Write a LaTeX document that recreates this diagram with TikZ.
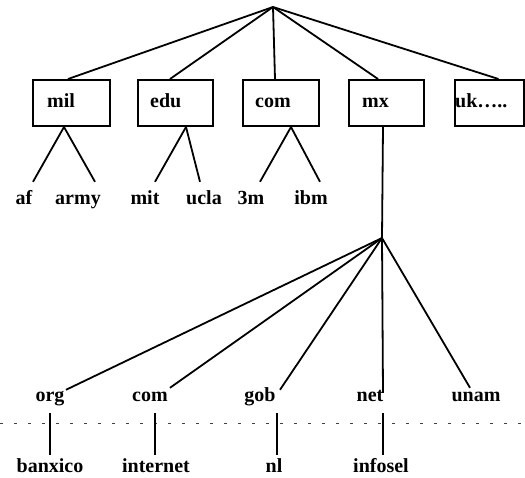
\documentclass[tikz,border=0pt]{standalone}
\usepackage{fontspec}
\setmainfont{Liberation Serif}
\begin{document}
\begin{tikzpicture}[x=1pt,y=-1pt,
  lbl/.style={font=\fontsize{20}{23}\selectfont\bfseries, inner sep=0pt, text height=13pt, text depth=4pt},
  box/.style={draw, line width=2pt, minimum height=46pt, inner sep=0pt, anchor=north west},
  edge/.style={line width=1.8pt},
  rule/.style={line width=0.8pt, black!75, dash pattern=on 3pt off 11pt}]
\useasboundingbox (0,0) rectangle (525,478);
\coordinate (root) at (273,7);
% top-level boxes
\node[box, minimum width=77pt] (mil) at (32,79) {};
\node[box, minimum width=75pt] (edu) at (137,79) {};
\node[box, minimum width=76pt] (com) at (242,79) {};
\node[box, minimum width=75pt] (mx)  at (348,79) {};
\node[box, minimum width=69pt] (uk)  at (454,79) {};
\node[lbl, anchor=west] (tmil) at (47,103) {mil};
\node[lbl, anchor=west] (tedu) at (150,103) {edu};
\node[lbl, anchor=west] (tcom) at (255,103) {com};
\node[lbl, anchor=west] (tmx)  at (362,103) {mx};
\node[lbl, anchor=west] (tuk)  at (455,103) {uk…..};
% root edges
\draw[edge] (root) -- ([xshift=-3.5pt]mil.north);
\draw[edge] (root) -- ([xshift=-5.5pt]edu.north);
\draw[edge] (root) -- ([xshift=-6pt]com.north);
\draw[edge] (root) -- ([xshift=-8.5pt]mx.north);
\draw[edge] (root) -- ([xshift=9pt]uk.north);
% second level labels
\node[lbl] (af)   at (24,200) {af};
\node[lbl] (army) at (78,200) {army};
\node[lbl] (mit)  at (145,200) {mit};
\node[lbl] (ucla) at (204,200) {ucla};
\node[lbl] (tm)   at (251,200) {3m};
\node[lbl] (ibm)  at (311,200) {ibm};
\draw[edge] ([xshift=-7.5pt]mil.south) -- ([xshift=9pt,yshift=9.5pt]af.north);
\draw[edge] ([xshift=-7.5pt]mil.south) -- ([xshift=17pt,yshift=9.5pt]army.north);
\draw[edge] ([xshift=10.5pt]edu.south) -- ([xshift=10pt,yshift=9.5pt]mit.north);
\draw[edge] ([xshift=10.5pt]edu.south) -- ([xshift=-4pt,yshift=9.5pt]ucla.north);
\draw[edge] ([xshift=10pt]com.south) -- ([xshift=9pt,yshift=9.5pt]tm.north);
\draw[edge] ([xshift=10pt]com.south) -- ([xshift=9pt,yshift=9.5pt]ibm.north);
% mx subtree
\coordinate (jn) at (382,238);
\draw[edge] ([xshift=-3.5pt]mx.south) -- (jn);
\node[lbl] (org)  at (50,397) {org};
\node[lbl] (com2) at (150,397) {com};
\node[lbl] (gob)  at (260,397) {gob};
\node[lbl] (net)  at (370,397) {net};
\node[lbl] (unam) at (476,397) {unam};
\draw[edge] (jn) -- ([xshift=16pt,yshift=-1.5pt]org.north);
\draw[edge] (jn) -- ([xshift=20pt,yshift=0.5pt]com2.north);
\draw[edge] (jn) -- ([xshift=20pt,yshift=-1.5pt]gob.north);
\draw[edge] (jn) -- ([xshift=13pt,yshift=-4.5pt]net.north);
\draw[edge] (jn) -- ([xshift=-6pt,yshift=0.5pt]unam.north);
% dotted rule
\coordinate (rl) at (0,423);
\coordinate (rr) at (525,423);
\draw[rule] (rl) -- (rr);
% bottom labels
\node[lbl] (banxico)  at (50,468) {banxico};
\node[lbl] (internet) at (156,468) {internet};
\node[lbl] (nl)       at (274,468) {nl};
\node[lbl] (infosel)  at (381,468) {infosel};
\draw[edge] ([yshift=-7.5pt]org.south) -- ([yshift=4.5pt]banxico.north);
\draw[edge] ([xshift=5pt,yshift=-7.5pt]com2.south) -- ([xshift=-1pt,yshift=4.5pt]internet.north);
\draw[edge] ([xshift=17pt,yshift=-7.5pt]gob.south) -- ([xshift=3pt,yshift=4.5pt]nl.north);
\draw[edge] ([xshift=13pt,yshift=-7.5pt]net.south) -- ([xshift=2pt,yshift=4.5pt]infosel.north);
\end{tikzpicture}
\end{document}
